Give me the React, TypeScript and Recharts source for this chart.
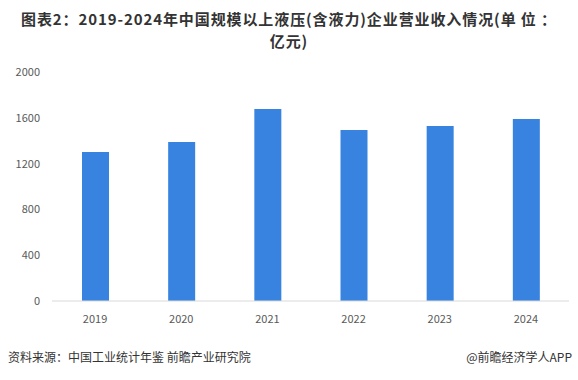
import React from 'react';
import { BarChart, Bar, XAxis, YAxis } from 'recharts';

const years = ['2019', '2020', '2021', '2022', '2023', '2024'];
const revenue = [1301, 1389, 1677, 1493, 1528, 1590];
const yTicks = [0, 400, 800, 1200, 1600, 2000];

const data = years.map((y, i) => ({ year: y, value: revenue[i] }));

const font = '"Noto Sans CJK SC", "Noto Sans", sans-serif';

const titleStyle: React.CSSProperties = {
  position: 'absolute', left: 0, right: 0, textAlign: 'center', whiteSpace: 'nowrap',
  fontSize: 15, fontWeight: 700, lineHeight: '18px', letterSpacing: 0.9, color: '#333',
};

export default function App() {
  return (
    <div style={{ position: 'absolute', left: 0, top: 0, width: 578, height: 380, background: '#fff', fontFamily: font }}>
      <div style={{ ...titleStyle, top: 10 }}>
        图表2：2019-2024年中国规模以上液压(含液力)企业营业收入情况(单 位 ：
      </div>
      <div style={{ ...titleStyle, top: 32 }}>亿元)</div>
      <BarChart
        width={578}
        height={380}
        data={data}
        margin={{ top: 72, right: 9, bottom: 49, left: 0 }}
      >
        <XAxis
          dataKey="year"
          height={30}
          tickLine={false}
          axisLine={{ stroke: '#d9d9d9' }}
          tick={{ fill: '#595959', fontSize: 11, fontFamily: font }}
          tickMargin={8}
        />
        <YAxis
          width={52}
          domain={[0, 2000]}
          ticks={yTicks}
          axisLine={false}
          tickLine={false}
          tickSize={0}
          tickMargin={12}
          tick={{ fill: '#595959', fontSize: 11, fontFamily: font }}
        />
        <Bar dataKey="value" fill="#3883E0" barSize={27} isAnimationActive={false} />
      </BarChart>
      <div style={{ position: 'absolute', left: 8, top: 348, fontSize: 12, color: '#333' }}>
        资料来源：中国工业统计年鉴 前瞻产业研究院
      </div>
      <div style={{ position: 'absolute', right: 6, top: 348, fontSize: 12, color: '#333' }}>
        @前瞻经济学人APP
      </div>
    </div>
  );
}
